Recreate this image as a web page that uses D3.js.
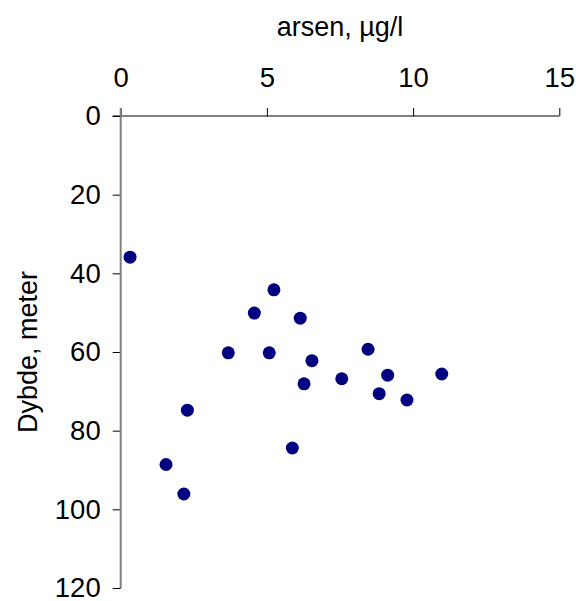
<!DOCTYPE html>
<html>
<head>
<meta charset="utf-8">
<script src="https://cdn.jsdelivr.net/npm/d3@7"></script>
<style>
  body { margin: 0; background: #fff; }
  svg { font-family: "Liberation Sans", Arial, sans-serif; }
</style>
</head>
<body>
<div id="chart"></div>
<script>
// arsen (µg/l) and depth (m) per sample
var arsen = [0.32, 5.24, 4.57, 6.14, 3.68, 5.08, 6.54, 6.27, 7.56, 8.46, 9.13, 10.98, 8.84, 9.79, 5.87, 2.28, 1.55, 2.16];
var dybde = [35.9, 44.2, 50.1, 51.4, 60.2, 60.2, 62.2, 68.1, 66.8, 59.3, 65.9, 65.6, 70.6, 72.2, 84.4, 74.8, 88.6, 96.1];
var xTicks = [0, 5, 10, 15];
var yTicks = [0, 20, 40, 60, 80, 100, 120];

var W = 576, H = 601;
var margin = {top: 116, right: 16.7, bottom: 13, left: 120.7};
var width = W - margin.left - margin.right,
    height = H - margin.top - margin.bottom;

var svg = d3.select("#chart").append("svg")
    .attr("width", W)
    .attr("height", H);

var g = svg.append("g")
    .attr("transform", "translate(" + margin.left + "," + margin.top + ")");

var x = d3.scaleLinear().domain([0, 15]).range([0, width]);
var y = d3.scaleLinear().domain([0, 120]).range([0, height]);

// top x axis
var xAxis = g.append("g")
    .call(d3.axisTop(x).tickValues(xTicks).tickSize(8).tickSizeOuter(0).tickPadding(21));
xAxis.select(".domain").remove();
xAxis.selectAll("line").attr("stroke", "#000");
xAxis.selectAll("text").attr("font-size", 27.5).attr("fill", "#000")
    .attr("font-family", "Liberation Sans, Arial, sans-serif");
xAxis.append("line")
    .attr("x1", -8).attr("x2", width)
    .attr("stroke", "#000");

// left y axis
var yAxis = g.append("g")
    .call(d3.axisLeft(y).tickValues(yTicks).tickSize(8).tickSizeOuter(0).tickPadding(12));
yAxis.select(".domain").remove();
yAxis.selectAll("line").attr("stroke", "#000");
yAxis.selectAll("text").attr("font-size", 27.5).attr("fill", "#000")
    .attr("font-family", "Liberation Sans, Arial, sans-serif");
yAxis.append("line")
    .attr("x1", 0).attr("x2", 0)
    .attr("y1", -8).attr("y2", height)
    .attr("stroke", "#808080")
    .attr("stroke-width", 2);

// points
g.selectAll(".dot")
    .data(arsen)
    .enter().append("circle")
    .attr("class", "dot")
    .attr("cx", function(d) { return x(d); })
    .attr("cy", function(d, i) { return y(dybde[i]); })
    .attr("r", 6.5)
    .attr("fill", "#000080");

// axis titles
svg.append("text")
    .attr("x", margin.left + width / 2)
    .attr("y", 36)
    .attr("text-anchor", "middle")
    .attr("font-size", 27)
    .text("arsen, µg/l");

svg.append("text")
    .attr("transform", "translate(37," + (margin.top + height / 2) + ") rotate(-90)")
    .attr("text-anchor", "middle")
    .attr("font-size", 27)
    .text("Dybde, meter");
</script>
</body>
</html>
